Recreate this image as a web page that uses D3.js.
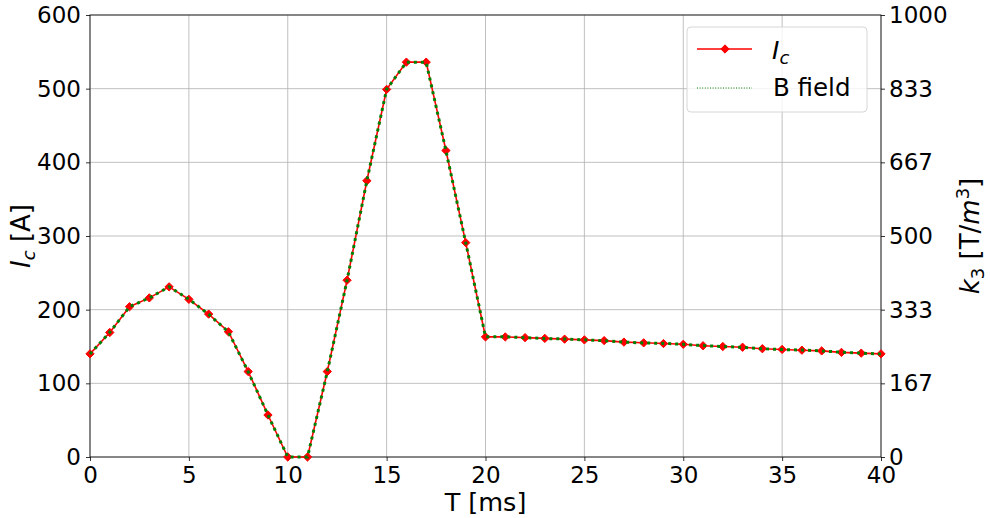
<!DOCTYPE html>
<html><head><meta charset="utf-8">
<script src="https://cdn.jsdelivr.net/npm/d3@7"></script>
<style>body{margin:0;background:#fff}svg{display:block}text{font-family:"DejaVu Sans",sans-serif;fill:#000}</style>
</head><body><svg id="c" width="990" height="518"></svg>
<script>
const timeMs = [0,1,2,3,4,5,6,7,8,9,10,11,12,13,14,15,16,17,18,19,20,21,22,23,24,25,26,27,28,29,30,31,32,33,34,35,36,37,38,39,40];
const currentA = [140,169,204,216,231,214,194,170,116,57,0,0,116,240,375,499,536,536,416,291,163,163,162,161,160,159,158,156,155,154,153,151,150,149,147,146,145,144,142,141,140];
const bField = [233,282,340,360,385,357,323,283,193,95,0,0,193,400,625,832,893,893,693,485,272,272,270,268,267,265,263,260,258,257,255,252,250,248,245,243,242,240,237,235,233];
const xTicks = [0,5,10,15,20,25,30,35,40];
const yTicks = [0,100,200,300,400,500,600];
const y2Ticks = [0,166.67,333.33,500,666.67,833.33,1000];
const y2Labels = ["0","167","333","500","667","833","1000"];

const svg = d3.select("#c");
const L=90,R=881,T=15,B=457;
const x = d3.scaleLinear().domain([0,40]).range([L,R]);
const y = d3.scaleLinear().domain([0,600]).range([B,T]);
const y2 = d3.scaleLinear().domain([0,1000]).range([B,T]);

// grid
const g = svg.append("g");
xTicks.forEach(t=>g.append("line").attr("x1",x(t)).attr("x2",x(t)).attr("y1",T).attr("y2",B).attr("stroke","#b0b0b0").attr("stroke-width",0.8));
yTicks.forEach(t=>g.append("line").attr("x1",L).attr("x2",R).attr("y1",y(t)).attr("y2",y(t)).attr("stroke","#b0b0b0").attr("stroke-width",0.8));

// axes
const fs = 23;
const ax = svg.append("g").attr("transform",`translate(0,${B})`).call(d3.axisBottom(x).tickValues(xTicks).tickSize(4).tickFormat(d3.format("d")));
const ayl = svg.append("g").attr("transform",`translate(${L},0)`).call(d3.axisLeft(y).tickValues(yTicks).tickSize(4).tickPadding(5).tickFormat(d3.format("d")));
const ayr = svg.append("g").attr("transform",`translate(${R},0)`).call(d3.axisRight(y2).tickValues(y2Ticks).tickSize(4).tickPadding(4).tickFormat((d,i)=>y2Labels[i]));
[ax,ayl,ayr].forEach(a=>{a.select(".domain").remove();a.selectAll("text").attr("font-size",fs).attr("font-family","DejaVu Sans");a.selectAll("line").attr("stroke","#000").attr("stroke-width",0.8);});
ax.selectAll("text").attr("y",26).attr("dy",0);
svg.append("rect").attr("x",L).attr("y",T).attr("width",R-L).attr("height",B-T).attr("fill","none").attr("stroke","#000").attr("stroke-width",0.8);

// data
const pts = timeMs.map((t,i)=>[t,currentA[i]]);
const bpts = timeMs.map((t,i)=>[t,bField[i]]);
svg.append("path").datum(pts).attr("d",d3.line().x(d=>x(d[0])).y(d=>y(d[1]))).attr("fill","none").attr("stroke","red").attr("stroke-width",1.6);
const dia = d3.symbol().type(d3.symbolDiamond2).size(44);
svg.selectAll(".m").data(pts).enter().append("path").attr("d",dia).attr("transform",d=>`translate(${x(d[0])},${y(d[1])})`).attr("fill","red").attr("stroke","red").attr("stroke-width",1);
svg.append("path").datum(bpts).attr("d",d3.line().x(d=>x(d[0])).y(d=>y2(d[1]))).attr("fill","none").attr("stroke","green").attr("stroke-width",3).attr("stroke-dasharray","3,4");

// labels
svg.append("text").attr("x",(L+R)/2).attr("y",511).attr("text-anchor","middle").attr("font-size",25.5).text("T [ms]");
const yl = svg.append("text").attr("transform",`translate(30,${(T+B)/2}) rotate(-90)`).attr("text-anchor","middle").attr("font-size",26);
yl.append("tspan").attr("font-style","italic").text("I");
yl.append("tspan").attr("font-style","italic").attr("font-size",18).attr("dy",5).text("c");
yl.append("tspan").attr("dy",-5).text(" [A]");
const yr = svg.append("text").attr("transform",`translate(979,${(T+B)/2}) rotate(-90)`).attr("text-anchor","middle").attr("font-size",26);
yr.append("tspan").attr("font-style","italic").text("k");
yr.append("tspan").attr("font-size",18).attr("dy",5).text("3");
yr.append("tspan").attr("dy",-5).text(" [T/");
yr.append("tspan").attr("font-style","italic").text("m");
yr.append("tspan").attr("font-size",18).attr("dy",-10).text("3");
yr.append("tspan").attr("dy",10).text("]");

// legend
const lg = svg.append("g");
lg.append("rect").attr("x",687).attr("y",27).attr("width",180).attr("height",85).attr("rx",4).attr("fill","#fff").attr("fill-opacity",0.8).attr("stroke","#d6d6d6");
lg.append("line").attr("x1",697).attr("x2",752).attr("y1",49).attr("y2",49).attr("stroke","red").attr("stroke-width",1.6);
lg.append("path").attr("d",dia).attr("transform","translate(725,49)").attr("fill","red").attr("stroke","red");
lg.append("line").attr("x1",697).attr("x2",752).attr("y1",88).attr("y2",88).attr("stroke","green").attr("stroke-width",1).attr("stroke-dasharray","1,1.6");
const l1 = lg.append("text").attr("x",772).attr("y",59).attr("font-size",25);
l1.append("tspan").attr("font-style","italic").text("I");
l1.append("tspan").attr("font-style","italic").attr("font-size",18).attr("dy",5).text("c");
lg.append("text").attr("x",773).attr("y",96).attr("font-size",24.5).text("B field");
</script></body></html>
